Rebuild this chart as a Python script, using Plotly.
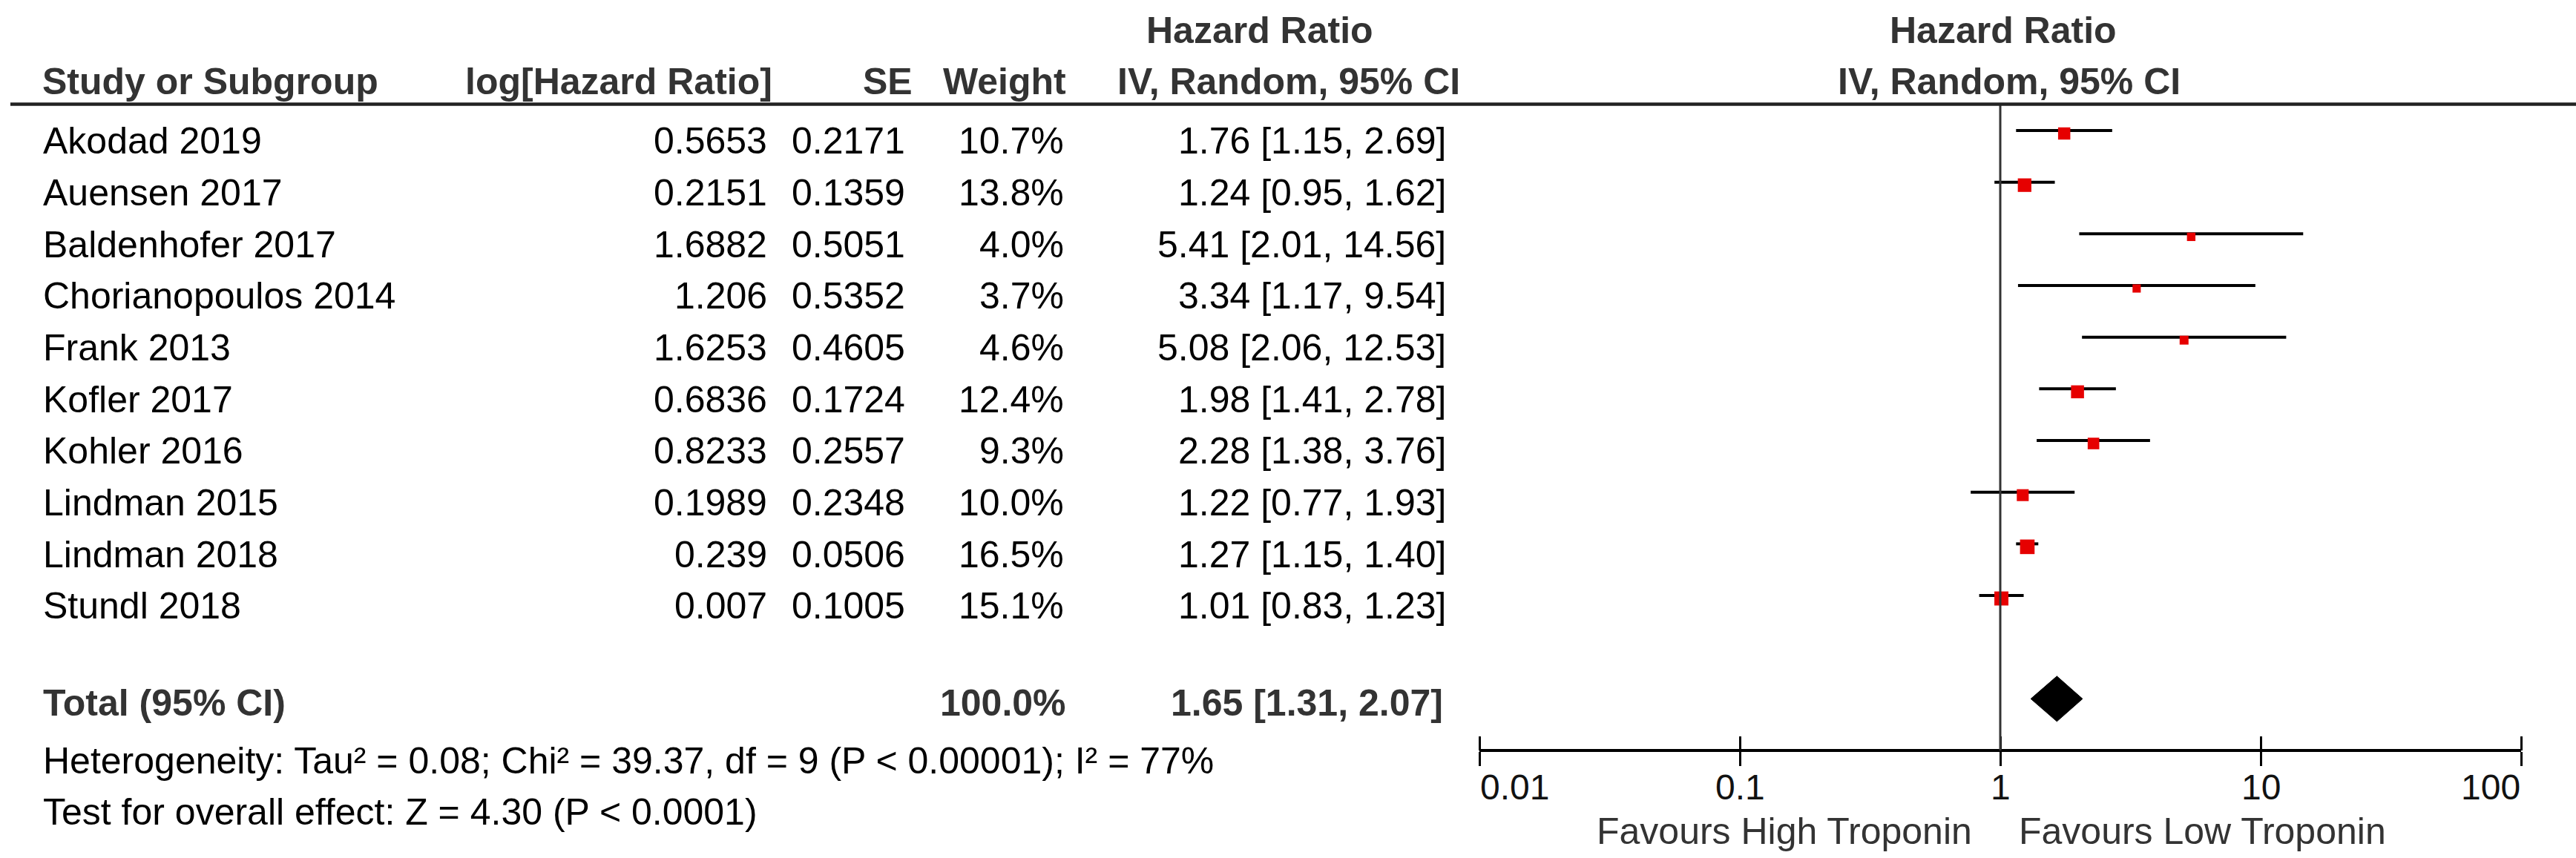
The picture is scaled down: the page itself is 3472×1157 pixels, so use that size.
import plotly.graph_objects as go
import math

# ---------------- data ----------------
studies = ["Akodad 2019", "Auensen 2017", "Baldenhofer 2017", "Chorianopoulos 2014",
           "Frank 2013", "Kofler 2017", "Kohler 2016", "Lindman 2015", "Lindman 2018",
           "Stundl 2018"]
log_hr = [0.5653, 0.2151, 1.6882, 1.206, 1.6253, 0.6836, 0.8233, 0.1989, 0.239, 0.007]
se = [0.2171, 0.1359, 0.5051, 0.5352, 0.4605, 0.1724, 0.2557, 0.2348, 0.0506, 0.1005]
weight = [10.7, 13.8, 4.0, 3.7, 4.6, 12.4, 9.3, 10.0, 16.5, 15.1]
hr = [1.76, 1.24, 5.41, 3.34, 5.08, 1.98, 2.28, 1.22, 1.27, 1.01]
ci_low = [1.15, 0.95, 2.01, 1.17, 2.06, 1.41, 1.38, 0.77, 1.15, 0.83]
ci_high = [2.69, 1.62, 14.56, 9.54, 12.53, 2.78, 3.76, 1.93, 1.40, 1.23]
total_weight = 100.0
total_hr = 1.65
total_low = 1.31
total_high = 2.07
tick_vals = [0.01, 0.1, 1, 10, 100]
tick_labels = ["0.01", "0.1", "1", "10", "100"]
tick_anchor = ["left", "center", "center", "center", "right"]
heterogeneity = "Heterogeneity: Tau² = 0.08; Chi² = 39.37, df = 9 (P < 0.00001); I² = 77%"
overall = "Test for overall effect: Z = 4.30 (P < 0.0001)"
favours_left = "Favours High Troponin"
favours_right = "Favours Low Troponin"

# ---------------- layout constants ----------------
W, H = 3472, 1157
ROW0, ROWSTEP = 176.0, 69.67          # pixel y of first row line, row spacing
TOTAL_ROW = 11
AXIS_Y = 1012
FONT = "Liberation Sans, Arial, sans-serif"
FS = 50
BOLD_COL = "#333333"

def px(x):
    return x / W

def py(y):
    return 1 - y / H

rows = list(range(len(studies)))
yrange = [(H - ROW0) / ROWSTEP, -ROW0 / ROWSTEP]
x_dom = [px(1994), px(3398)]
axis_pos = py(AXIS_Y)

fig = go.Figure()

# CI lines
cx, cy = [], []
for r, lo, hi in zip(rows, ci_low, ci_high):
    cx += [lo, hi, None]
    cy += [r, r, None]
fig.add_trace(go.Scatter(x=cx, y=cy, mode="lines", line=dict(color="black", width=4),
                         hoverinfo="skip", showlegend=False))

# squares (slightly below the line as in RevMan output)
sizes = [3.4 + 4.0 * math.sqrt(w) for w in weight]
fig.add_trace(go.Scatter(x=hr, y=[r + 4 / ROWSTEP for r in rows], mode="markers",
                         marker=dict(symbol="square", color="#e60000", size=sizes,
                                     opacity=1, line=dict(width=0)),
                         hoverinfo="skip", showlegend=False))

# diamond for total
dh = 30.5 / ROWSTEP
fig.add_trace(go.Scatter(x=[total_low, total_hr, total_high, total_hr, total_low],
                         y=[TOTAL_ROW, TOTAL_ROW - dh, TOTAL_ROW, TOTAL_ROW + dh, TOTAL_ROW],
                         mode="lines", fill="toself", fillcolor="black",
                         line=dict(color="black", width=1),
                         hoverinfo="skip", showlegend=False))

# dummy trace to create the overlaid (upward tick) axis
fig.add_trace(go.Scatter(x=[1], y=[0], xaxis="x2", yaxis="y", mode="none",
                         hoverinfo="skip", showlegend=False))

common = dict(type="log", range=[-2, 2], domain=x_dom, anchor="free", position=axis_pos,
              showgrid=False, zeroline=False, fixedrange=True)

fig.update_layout(
    width=W, height=H, autosize=False,
    margin=dict(l=0, r=0, t=0, b=0, pad=0),
    paper_bgcolor="white", plot_bgcolor="white",
    font=dict(family=FONT, size=FS, color="black"),
    xaxis=dict(**common, showline=True, linewidth=4, linecolor="black",
               ticks="outside", ticklen=19, tickwidth=3, tickcolor="black",
               tickvals=tick_vals, showticklabels=False),
    xaxis2=dict(**common, overlaying="x", side="top", showline=False, ticks="outside", ticklen=19,
                tickwidth=3, tickcolor="black", tickvals=tick_vals, showticklabels=False),
    yaxis=dict(range=yrange, domain=[0, 1], visible=False, fixedrange=True),
)

# vertical line at HR = 1 and header rule
fig.add_shape(type="line", xref="x", yref="paper", x0=1, x1=1, y0=axis_pos, y1=py(142),
              line=dict(color="#333333", width=3))
fig.add_shape(type="line", xref="paper", yref="paper", x0=px(14), x1=1, y0=py(140.5), y1=py(140.5),
              line=dict(color="#222222", width=4.5))

ann = []
ASC_MID = 0.3465  # baseline to text-box middle, in em


def text(t, x, anchor, y, yref="paper", yshift=0, bold=False, color="black", size=FS, xref="paper"):
    ann.append(dict(text=f"<b>{t}</b>" if bold else t, x=x, xref=xref, xanchor=anchor,
                    y=y, yref=yref, yanchor="middle", yshift=yshift, showarrow=False,
                    font=dict(family=FONT, size=size, color=color), borderpad=0))


def hdr(t, x, anchor, baseline):
    text(t, px(x), anchor, py(baseline - ASC_MID * FS), bold=True, color=BOLD_COL)

# headers
hdr("Study or Subgroup", 56, "left", 127)
hdr("log[Hazard Ratio]", 1042, "right", 127)
hdr("SE", 1231, "right", 127)
hdr("Weight", 1438, "right", 127)
hdr("Hazard Ratio", 1698, "center", 58)
hdr("IV, Random, 95% CI", 1737, "center", 127)
hdr("Hazard Ratio", 2700, "center", 58)
hdr("IV, Random, 95% CI", 2708, "center", 127)

# study rows
row_shift = -(31.5 - ASC_MID * FS)
for r in rows:
    text(studies[r], px(57), "left", r, yref="y", yshift=row_shift)
    text(str(log_hr[r]), px(1035), "right", r, yref="y", yshift=row_shift)
    text(f"{se[r]:.4f}", px(1221), "right", r, yref="y", yshift=row_shift)
    text(f"{weight[r]:.1f}%", px(1435), "right", r, yref="y", yshift=row_shift)
    text(f"{hr[r]:.2f} [{ci_low[r]:.2f}, {ci_high[r]:.2f}]", px(1950), "right", r,
         yref="y", yshift=row_shift)

# total row
tot_shift = -(22.6 - ASC_MID * FS)
text("Total (95% CI)", px(57), "left", TOTAL_ROW, yref="y", yshift=tot_shift, bold=True, color=BOLD_COL)
text(f"{total_weight:.1f}%", px(1438), "right", TOTAL_ROW, yref="y", yshift=tot_shift, bold=True, color=BOLD_COL)
text(f"{total_hr:.2f} [{total_low:.2f}, {total_high:.2f}]", px(1946), "right", TOTAL_ROW,
     yref="y", yshift=tot_shift, bold=True, color=BOLD_COL)

# tick labels of the log axis (placed at the tick values)
TFS = 48
for v, lab, anc in zip(tick_vals, tick_labels, tick_anchor):
    text(lab, math.log10(v), anc, py(1078 - ASC_MID * TFS), xref="x", size=TFS, color="#111111")

# footer
text(heterogeneity, px(57), "left", py(1043 - ASC_MID * FS))
text(overall, px(57), "left", py(1112 - ASC_MID * FS))
text(favours_left, px(2659), "right", py(1138 - ASC_MID * FS), color="#333333")
text(favours_right, px(2720), "left", py(1138 - ASC_MID * FS), color="#333333")

fig.update_layout(annotations=ann)
fig.write_html("out.html", config={"displayModeBar": False, "staticPlot": True},
               post_script="document.body.style.margin='0px';")
